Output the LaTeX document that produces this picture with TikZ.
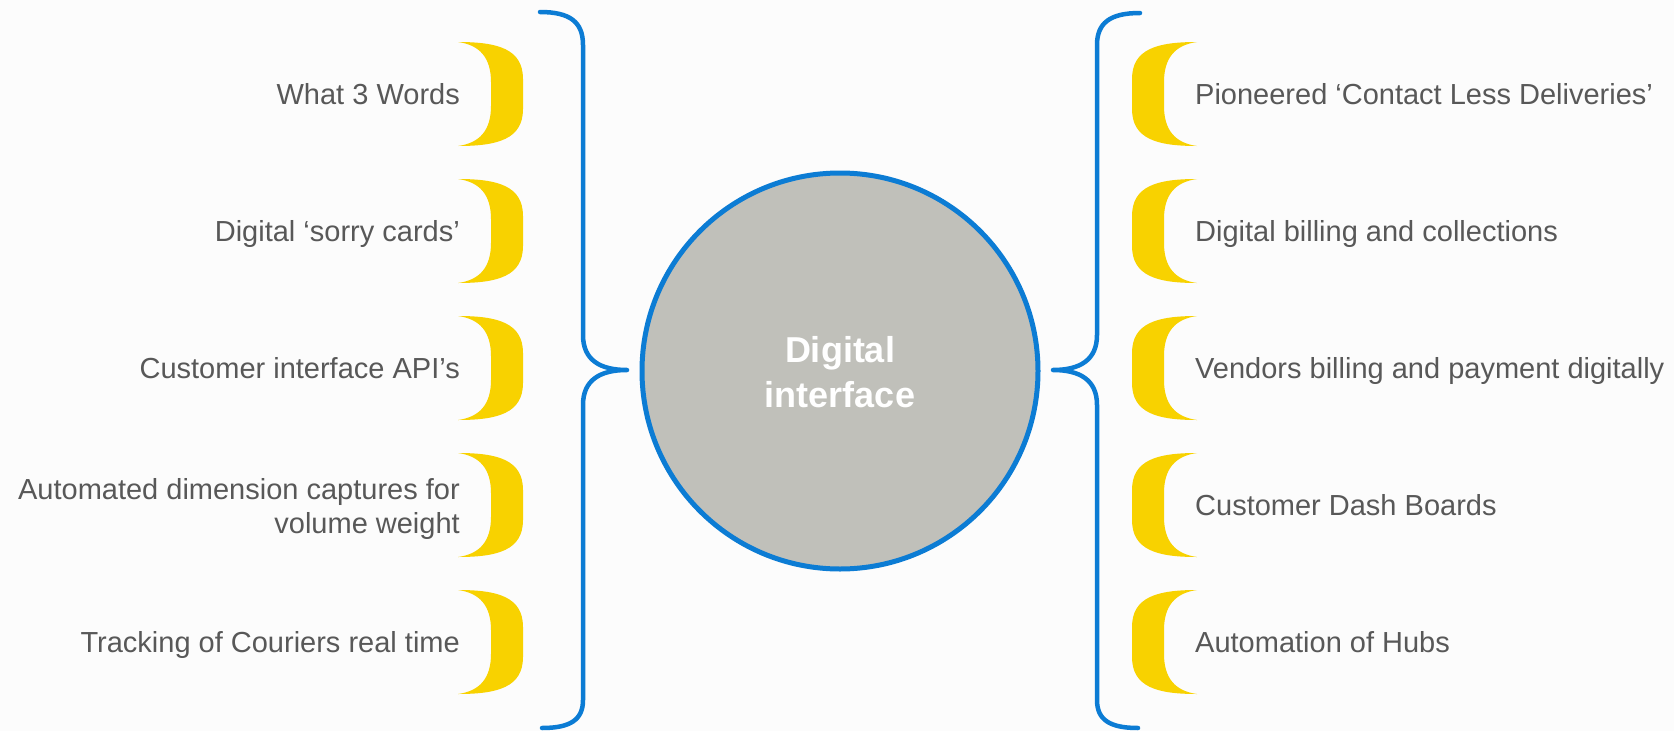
\documentclass[tikz,border=0pt]{standalone}
\usepackage{fontspec}
\setmainfont{Liberation Sans}
\definecolor{bblue}{RGB}{12,124,212}
\definecolor{yel}{RGB}{248,210,0}
\definecolor{cgray}{RGB}{192,192,186}
\definecolor{tgray}{RGB}{88,88,88}
\definecolor{bg}{RGB}{252,252,252}
\begin{document}
\begin{tikzpicture}[x=1pt,y=-1pt,
  lbl/.style={inner sep=0pt,text=tgray,font=\fontsize{29}{34}\selectfont},
  llbl/.style={lbl,anchor=base east,align=right},
  rlbl/.style={lbl,anchor=base west,align=left},
  bracestyle/.style={draw=bblue,line width=4.5pt,line cap=round,line join=round},
  lbrk/.pic={\fill[yel] (0,-52) .. controls (40,-52) and (65,-45) .. (65,-15) -- (65,15) .. controls (65,45) and (40,52) .. (0,52) .. controls (22,49) and (33,36) .. (33,12) -- (33,-12) .. controls (33,-36) and (22,-49) .. cycle;},
  rbrk/.pic={\fill[yel] (0,-52) .. controls (-40,-52) and (-65,-45) .. (-65,-15) -- (-65,15) .. controls (-65,45) and (-40,52) .. (0,52) .. controls (-22,49) and (-33,36) .. (-33,12) -- (-33,-12) .. controls (-33,-36) and (-22,-49) .. cycle;}
]
\fill[bg] (0,0) rectangle (1674,731);
\useasboundingbox (0,0) rectangle (1674,731);

% central circle
\node[circle,minimum size=396pt,inner sep=0pt,draw=bblue,line width=5pt,fill=cgray] (hub) at (840,371) {};
\node[inner sep=0pt,text=white,align=center,font=\fontsize{36}{45}\selectfont\bfseries] (hubtext) at (840,372.5) {Digital\\interface};

% left brace
\coordinate (ltop) at (540,12);
\coordinate (ltip) at (627,370);
\coordinate (lbot) at (542,728);
\draw[bracestyle] (ltop) .. controls (570,12) and (583,22) .. (583,45) -- (583,335)
  .. controls (583,360) and (600,370) .. (ltip)
  .. controls (600,370) and (583,380) .. (583,405) -- (583,700)
  .. controls (583,720) and (570,728) .. (lbot);

% right brace
\coordinate (rtop) at (1140,13);
\coordinate (rtip) at (1053,370);
\coordinate (rbot) at (1138,728);
\draw[bracestyle] (rtop) .. controls (1110,13) and (1097,23) .. (1097,45) -- (1097,335)
  .. controls (1097,360) and (1080,370) .. (rtip)
  .. controls (1080,370) and (1097,380) .. (1097,405) -- (1097,700)
  .. controls (1097,720) and (1110,728) .. (rbot);

% yellow brackets
\foreach \cy in {94,231,368,505,642} {
  \pic at (458,\cy) {lbrk};
  \pic at (1197,\cy) {rbrk};
}

% left labels
\node[llbl] (l1) at (460,104.4) {What 3 Words};
\node[llbl] (l2) at (460,241.4) {Digital ‘sorry cards’};
\node[llbl] (l3) at (460,378.4) {Customer interface API’s};
\node[llbl] (l4) at (460,533) {Automated dimension captures for\\volume weight};
\node[llbl] (l5) at (460,652.4) {Tracking of Couriers real time};

% right labels
\node[rlbl] (r1) at (1195,104.4) {Pioneered ‘Contact Less Deliveries’};
\node[rlbl] (r2) at (1195,241.4) {Digital billing and collections};
\node[rlbl] (r3) at (1195,378.4) {Vendors billing and payment digitally};
\node[rlbl] (r4) at (1195,515.4) {Customer Dash Boards};
\node[rlbl] (r5) at (1195,652.4) {Automation of Hubs};
\end{tikzpicture}
\end{document}
